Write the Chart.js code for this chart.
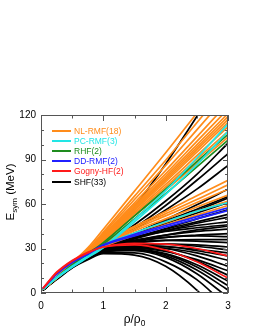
<!DOCTYPE html>
<html>
<head>
<meta charset="utf-8">
<script src="https://cdn.jsdelivr.net/npm/chart.js@4.4.1/dist/chart.umd.min.js"></script>
<style>
    body { margin: 0; background: #fff; }
    #wrap { position: relative; width: 255px; height: 330px; font-family: "Liberation Sans", Arial, sans-serif; }
    .axis-title { position: absolute; white-space: nowrap; color: #000; }
    .axis-title sub { font-size: 70%; line-height: 0; }
    #ytitle { left: 10px; top: 192px; font-size: 11.5px; transform: translate(-50%, -50%) rotate(-90deg); }
    #xtitle { left: 134.5px; top: 319px; font-size: 12px; transform: translate(-50%, -50%); }
    #legend { position: absolute; left: 52px; top: 126px; }
    .legend-row { display: flex; align-items: center; height: 10.1px; font-size: 8.5px; }
    .legend-line { width: 19px; height: 2px; margin-right: 3px; }
</style>
</head>
<body>
<div id="wrap">
    <canvas id="chart" width="255" height="330"></canvas>
    <div class="axis-title" id="ytitle">E<sub>sym</sub> (MeV)</div>
    <div class="axis-title" id="xtitle">&rho;/&rho;<sub>0</sub></div>
    <div id="legend"></div>
</div>
<script>
// Density points (rho/rho0) where each curve was read
const rho = [0.03, 0.25, 0.5, 0.75, 1, 1.5, 2, 2.5, 3];

// Tick labels
const xTickLabels = [0, 1, 2, 3];
const yTickLabels = [0, 30, 60, 90, 120];

// Esym (MeV) for each model family, one row per parameter set
const nlRmf = [
    [2.5, 10.8, 20.5, 30.4, 43, 68.7, 94.5, 121.2, 148],
    [2.5, 10.6, 20, 29.3, 41, 65.3, 89.5, 114.8, 140],
    [2.5, 10.5, 19.8, 28.8, 40, 63, 86, 110, 134],
    [2.5, 10.4, 19.5, 28.2, 39, 60.8, 82.6, 105.3, 128],
    [2.5, 10.4, 19.4, 27.9, 38.5, 59.4, 80.4, 102.2, 124],
    [2.5, 10.3, 19.3, 27.7, 38, 58.3, 78.7, 99.8, 121],
    [2.5, 10.3, 19.1, 27.4, 37.5, 57.5, 77.4, 98.2, 119],
    [2.5, 10.2, 19, 27.1, 37, 56.6, 76.2, 96.6, 117],
    [2.5, 10.2, 18.9, 26.8, 36.5, 55.7, 75, 95, 115],
    [2.5, 10.1, 18.8, 26.6, 36, 54.6, 73.2, 92.6, 112],
    [2.5, 10.1, 18.6, 26.3, 35.5, 53.5, 71.5, 90.3, 109],
    [2.5, 10, 18.5, 26, 35, 52.2, 69.3, 87.2, 105],
    [2.5, 10, 18.5, 26, 34, 45, 55, 65.5, 76],
    [2.5, 10, 18.5, 25.5, 33.5, 44, 53.5, 63, 73],
    [2.5, 10, 18.5, 25.5, 33, 43, 52, 61, 70],
    [2.5, 10, 18.5, 25.5, 32.5, 42, 50, 58, 66],
    [2.5, 10, 18.5, 25, 32, 40.5, 47.5, 55, 62],
    [2.5, 10, 18, 24.5, 31, 39, 46, 52.5, 59]
];
const pcRmf = [
    [2.5, 10, 17.5, 24, 31, 49.5, 69, 91, 114],
    [2.5, 10, 17.5, 24, 30.5, 48, 66.5, 86.5, 109],
    [2.5, 10.5, 18, 25, 32, 40.5, 48, 55, 61]
];
const rhf = [
    [2.5, 10.5, 19, 26.5, 34, 52, 70, 88.5, 107],
    [2.5, 10.5, 19, 26, 33, 50, 67, 85, 103]
];
const ddRmf = [
    [3, 13, 21, 26.5, 32.5, 39.5, 45.5, 51.5, 57.5],
    [3, 12.5, 20.5, 26, 32, 38.5, 44.5, 50, 55.5]
];
const gognyHf = [
    [3, 14, 22, 27.5, 31, 33.5, 33, 30, 25],
    [3, 13.5, 21.5, 27, 31, 32.5, 29, 21, 10]
];
const shf = [
    [2, 9, 17, 24, 33, 58, 87, 119, 152],
    [2, 9.5, 17.5, 24.5, 32, 46, 62, 80, 101],
    [2, 9.5, 17.5, 24.5, 31.5, 44, 59, 76, 94],
    [2, 9.5, 18, 25, 32, 43, 56, 70, 86],
    [2, 10, 18, 25, 31, 40, 49.5, 59.5, 70],
    [2, 10, 18, 25, 32, 40.5, 48.5, 56.5, 65],
    [2, 10, 18.5, 25.5, 30.5, 39, 47, 55.5, 64],
    [2, 10, 18.5, 25.5, 32, 40, 47, 54, 61],
    [2, 10, 18.5, 25, 30, 37, 43.5, 50, 56],
    [2, 10.5, 18.5, 25.5, 31, 37.5, 43, 48, 53],
    [2, 10.5, 19, 25.5, 30.5, 36.5, 42, 47, 51],
    [2, 10.5, 19, 26, 31.5, 37.5, 42, 45.5, 48],
    [2, 10.5, 19, 26, 32, 37.5, 41.5, 44, 46],
    [2, 10, 18.5, 25, 30, 35, 39, 42.5, 45],
    [2, 10, 18.5, 25, 30.5, 35.5, 39, 41.5, 43],
    [2, 10.5, 19, 25.5, 30, 34.5, 37.5, 39, 40],
    [2, 10.5, 19, 26, 31, 35.5, 37.5, 38.5, 38],
    [2, 10, 18.5, 25, 29.5, 33.5, 35.5, 36, 36],
    [2, 10.5, 19, 25.5, 30, 34, 35.5, 35, 34],
    [2, 10, 18.5, 24.5, 28.5, 32, 33, 32.5, 31],
    [2, 10, 18.5, 24.5, 29, 32.5, 33, 31.5, 29],
    [2, 10, 18, 24, 28, 31, 31, 29.5, 27],
    [2, 10.5, 19, 25, 29.5, 32, 31.5, 28.5, 25],
    [2, 10, 18, 24, 28, 30.5, 30, 27, 22],
    [2, 10, 18.5, 24.5, 29, 31.5, 30, 25, 18],
    [2, 10, 18, 24, 28, 30, 28, 22.5, 15],
    [2, 10, 18, 24, 28.5, 30.5, 28.5, 21.5, 12],
    [2, 10, 18, 24, 28, 29.5, 26.5, 19, 8],
    [2, 9.5, 17.5, 23.5, 27.5, 29, 26, 17.5, 5],
    [2, 10, 18, 24, 28, 29, 25, 15.5, 2],
    [2, 10, 18, 24, 28, 28.5, 24, 13, -3],
    [2, 9.5, 17.5, 23, 27, 27, 21, 9, -10],
    [2, 9.5, 17, 22.5, 26.5, 25.5, 18, 2, -20]
];

// Families in legend order; lower layer is drawn on top
const families = [
    { label: 'NL-RMF(18)', color: '#ff8c1a', curves: nlRmf, layer: 4 },
    { label: 'PC-RMF(3)', color: '#22e5e5', curves: pcRmf, layer: 2 },
    { label: 'RHF(2)', color: '#1e8c1e', curves: rhf, layer: 3 },
    { label: 'DD-RMF(2)', color: '#2020ff', curves: ddRmf, layer: 1 },
    { label: 'Gogny-HF(2)', color: '#ff1a1a', curves: gognyHf, layer: 0 },
    { label: 'SHF(33)', color: '#000000', curves: shf, layer: 5 }
];

function buildDatasets() {
    const datasets = [];
    families.forEach(fam => {
        fam.curves.forEach(values => {
            datasets.push({
                label: fam.label,
                data: values.map((v, i) => ({ x: rho[i], y: v })),
                borderColor: fam.color,
                borderWidth: 1.7,
                pointRadius: 0,
                fill: false,
                cubicInterpolationMode: 'monotone',
                order: fam.layer
            });
        });
    });
    return datasets;
}

// Frame and inward tick marks on all four sides
const frameTicks = {
    id: 'frameTicks',
    afterDatasetsDraw(chart) {
        const { ctx, chartArea: a, scales } = chart;
        ctx.save();
        ctx.strokeStyle = '#555';
        ctx.lineWidth = 1;
        ctx.strokeRect(a.left + 0.5, a.top + 0.5, a.right - a.left - 1, a.bottom - a.top - 1);
        ctx.beginPath();
        for (let v = 0; v <= 120; v += 10) {
            const y = Math.round(scales.y.getPixelForValue(v)) + 0.5;
            const len = yTickLabels.includes(v) ? 5 : 3;
            ctx.moveTo(a.left, y); ctx.lineTo(a.left + len, y);
            ctx.moveTo(a.right, y); ctx.lineTo(a.right - len, y);
        }
        for (let v = 0; v <= 3; v += 0.5) {
            const x = Math.round(scales.x.getPixelForValue(v)) + 0.5;
            const len = xTickLabels.includes(v) ? 6 : 3.5;
            ctx.moveTo(x, a.bottom); ctx.lineTo(x, a.bottom - len);
            ctx.moveTo(x, a.top); ctx.lineTo(x, a.top + len);
        }
        ctx.stroke();
        ctx.restore();
    }
};

document.addEventListener('DOMContentLoaded', function() {
    const ctx = document.getElementById('chart').getContext('2d');
    new Chart(ctx, {
        type: 'line',
        data: { datasets: buildDatasets() },
        options: {
            responsive: false,
            animation: false,
            devicePixelRatio: 1,
            layout: { padding: { left: 0, right: 27, top: 115, bottom: 0 } },
            plugins: { legend: { display: false }, tooltip: { enabled: false } },
            scales: {
                x: {
                    type: 'linear',
                    min: 0,
                    max: 3,
                    grid: { display: false, drawTicks: false },
                    border: { display: false },
                    ticks: {
                        stepSize: 0.5,
                        padding: 7,
                        color: '#000',
                        font: { family: 'Liberation Sans', size: 10 },
                        maxRotation: 0,
                        autoSkip: false,
                        callback: v => xTickLabels.includes(v) ? String(v) : ''
                    },
                    afterFit: s => { s.height = 37; }
                },
                y: {
                    min: 0,
                    max: 120,
                    grid: { display: false, drawTicks: false },
                    border: { display: false },
                    ticks: {
                        stepSize: 10,
                        padding: 5,
                        color: '#000',
                        font: { family: 'Liberation Sans', size: 10 },
                        autoSkip: false,
                        callback: v => yTickLabels.includes(v) ? String(v) : ''
                    },
                    afterFit: s => { s.width = 41; }
                }
            }
        },
        plugins: [frameTicks]
    });

    // Legend inside the plot
    const legend = document.getElementById('legend');
    legend.innerHTML = families.map(f => `
        <div class="legend-row" style="color:${f.color}">
            <span class="legend-line" style="background:${f.color}"></span>${f.label}
        </div>`).join('');
});
</script>
</body>
</html>
